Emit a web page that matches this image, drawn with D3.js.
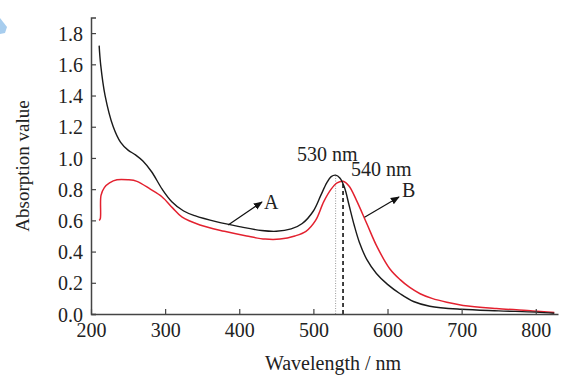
<!DOCTYPE html>
<html>
<head>
<meta charset="utf-8">
<script src="https://cdn.jsdelivr.net/npm/d3@7"></script>
<style>
body { margin: 0; background: #fff; }
text { font-family: "Liberation Serif", "Times New Roman", serif; fill: #222; }
</style>
</head>
<body>
<svg id="chart" width="568" height="376"></svg>
<script>
// curve A (black)
var waveA = [211, 213, 219, 230, 240, 250, 260, 270, 282, 296, 309, 325, 340, 370, 400, 430, 450, 470, 485, 500, 510, 518, 524, 530, 536, 542, 548, 555, 562, 572, 585, 600, 617, 635, 657, 700, 750, 800, 825];
var absA = [1.72, 1.60, 1.40, 1.20, 1.10, 1.05, 1.02, 0.98, 0.91, 0.80, 0.72, 0.66, 0.63, 0.59, 0.56, 0.535, 0.53, 0.545, 0.58, 0.66, 0.76, 0.84, 0.88, 0.89, 0.87, 0.81, 0.70, 0.57, 0.46, 0.35, 0.26, 0.19, 0.13, 0.08, 0.05, 0.03, 0.02, 0.012, 0.005];
// curve B (red)
var waveB = [211, 212.5, 213.5, 218, 225, 235, 250, 262, 280, 296, 310, 323, 347, 380, 410, 435, 455, 475, 490, 503, 514, 524, 532, 540, 548, 558, 572, 586, 603, 617, 630, 644, 660, 680, 702, 747, 796, 825];
var absB = [0.60, 0.61, 0.76, 0.81, 0.84, 0.86, 0.86, 0.85, 0.80, 0.75, 0.68, 0.62, 0.57, 0.53, 0.50, 0.48, 0.48, 0.50, 0.53, 0.60, 0.72, 0.80, 0.84, 0.85, 0.82, 0.73, 0.58, 0.43, 0.29, 0.22, 0.17, 0.13, 0.10, 0.075, 0.055, 0.035, 0.02, 0.01];
var xTicks = [200, 300, 400, 500, 600, 700, 800];
var yTicks = [0, 0.2, 0.4, 0.6, 0.8, 1.0, 1.2, 1.4, 1.6, 1.8];
var peaks = [530, 540];

var svg = d3.select("#chart");
var x = d3.scaleLinear().domain([200, 830]).range([91, 558]);
var y = d3.scaleLinear().domain([0, 1.9]).range([314, 17.5]);

// blue corner mark
svg.append("path").attr("d", "M0,18 L7,27 L5,33 L0,34 Z").attr("fill", "#a7cdee");

function zip(w, a) { return w.map(function(d, i) { return [d, a[i]]; }); }
var line = d3.line().x(function(d) { return x(d[0]); }).y(function(d) { return y(d[1]); }).curve(d3.curveCatmullRom.alpha(0.5));

// guides at peaks
svg.append("line").attr("x1", x(peaks[0])).attr("x2", x(peaks[0]))
	.attr("y1", y(0)).attr("y2", y(0.89))
	.attr("stroke", "#999").attr("stroke-width", 1).attr("stroke-dasharray", "1,1.5");
svg.append("line").attr("x1", x(peaks[1])).attr("x2", x(peaks[1]))
	.attr("y1", y(0)).attr("y2", y(0.85))
	.attr("stroke", "#111").attr("stroke-width", 1.6).attr("stroke-dasharray", "4,3");

svg.append("path").datum(zip(waveB, absB)).attr("d", line)
	.attr("fill", "none").attr("stroke", "#e3212f").attr("stroke-width", 1.5);
svg.append("path").datum(zip(waveA, absA)).attr("d", line)
	.attr("fill", "none").attr("stroke", "#1a1a1a").attr("stroke-width", 1.4);

// axes
var xAxis = svg.append("g").attr("transform", "translate(0," + y(0) + ")")
	.call(d3.axisBottom(x).tickValues(xTicks).tickSizeInner(-5).tickSizeOuter(0).tickPadding(9));
var yAxis = svg.append("g").attr("transform", "translate(" + x(200) + ",0)")
	.call(d3.axisLeft(y).tickValues(yTicks).tickFormat(d3.format(".1f")).tickSizeInner(-5).tickSizeOuter(-5).tickPadding(8));
[xAxis, yAxis].forEach(function(g) {
	g.attr("font-family", null);
	g.select(".domain").attr("stroke", "#444").attr("stroke-width", 1.5);
	g.selectAll(".tick line").attr("stroke", "#444").attr("stroke-width", 1.2);
	g.selectAll("text").style("font-size", "20px").attr("fill", "#333");
});
yAxis.selectAll("text").attr("dy", "0.36em");

// titles
svg.append("text").attr("x", 333).attr("y", 370).attr("text-anchor", "middle")
	.style("font-size", "20px").text("Wavelength / nm");
svg.append("text").attr("transform", "translate(29,166) rotate(-90)").attr("text-anchor", "middle")
	.style("font-size", "19px").text("Absorption value");

// annotations
svg.append("defs").append("marker").attr("id", "arr").attr("viewBox", "0 0 10 10")
	.attr("refX", 9).attr("refY", 5).attr("markerWidth", 9).attr("markerHeight", 9)
	.attr("markerUnits", "userSpaceOnUse").attr("orient", "auto")
	.append("path").attr("d", "M0,1 L10,5 L0,9 Z").attr("fill", "#111");
svg.append("line").attr("x1", x(385)).attr("y1", y(0.57)).attr("x2", 262).attr("y2", 202)
	.attr("stroke", "#111").attr("stroke-width", 1.2).attr("marker-end", "url(#arr)");
svg.append("line").attr("x1", x(569)).attr("y1", y(0.62)).attr("x2", 399).attr("y2", 197)
	.attr("stroke", "#111").attr("stroke-width", 1.2).attr("marker-end", "url(#arr)");
svg.append("text").attr("x", 264).attr("y", 209).style("font-size", "20px").text("A");
svg.append("text").attr("x", 402).attr("y", 197).style("font-size", "20px").text("B");
svg.append("text").attr("x", 297).attr("y", 161).style("font-size", "20px").text(peaks[0] + " nm");
svg.append("text").attr("x", 351).attr("y", 176).style("font-size", "20px").text(peaks[1] + " nm");
</script>
</body>
</html>
